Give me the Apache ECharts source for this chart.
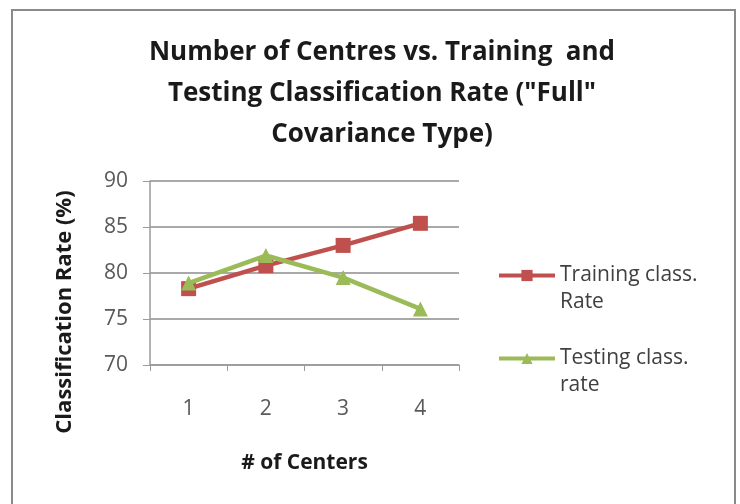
<!DOCTYPE html>
<html><head><meta charset="utf-8">
<script src="https://cdn.jsdelivr.net/npm/echarts@6/dist/echarts.min.js"></script>
<style>html,body{margin:0;padding:0;background:#fff}#c{width:740px;height:504px}</style>
</head><body><div id="c"></div>
<script>
const categories = ['1', '2', '3', '4'];
const trainingRate = [78.3, 80.8, 83.0, 85.4];
const testingRate = [78.9, 81.9, 79.5, 76.1];
const yTicks = [70, 75, 80, 85, 90];
const seriesNames = ['Training class.\nRate', 'Testing class.\nrate'];

const chart = echarts.init(document.getElementById('c'));
const fontFam = '"Open Sans", sans-serif';
chart.setOption({
  backgroundColor: '#ffffff',
  animation: false,
  title: {
    text: 'Number of Centres vs. Training  and\nTesting Classification Rate ("Full"\nCovariance Type)',
    left: 377, top: 27, textAlign: 'center',
    textStyle: { fontFamily: fontFam, fontSize: 26, fontWeight: 'bold', color: '#1a1a1a', lineHeight: 41 }
  },
  graphic: [{
    type: 'rect', shape: { x: 12, y: 10, width: 723, height: 510 },
    style: { fill: 'none', stroke: '#8a8a8a', lineWidth: 2 }, silent: true
  }],
  legend: {
    orient: 'vertical', left: 492, top: 230, itemWidth: 56, itemHeight: 14, itemGap: 2, itemGap: 2,
    data: seriesNames,
    formatter: n => '\n' + n,
    lineStyle: { width: 4 },
    textStyle: { fontFamily: fontFam, fontSize: 21, color: '#404040', lineHeight: 27 }
  },
  grid: { left: 150, right: 281, top: 181, bottom: 139 },
  xAxis: {
    type: 'category', data: categories, boundaryGap: true,
    name: '# of Centers', nameLocation: 'middle', nameGap: 88,
    nameTextStyle: { fontFamily: fontFam, fontSize: 21, fontWeight: 'bold', color: '#1a1a1a' },
    axisLine: { lineStyle: { color: '#9a9a9a', width: 1.5 } },
    axisTick: { show: true, length: 6, lineStyle: { color: '#9a9a9a' } },
    axisLabel: { fontFamily: fontFam, fontSize: 21, color: '#595959', margin: 34 }
  },
  yAxis: {
    type: 'value', min: 70, max: 90, interval: 5,
    name: 'Classification Rate (%)', nameLocation: 'middle', nameGap: 74,
    nameTextStyle: { fontFamily: fontFam, fontSize: 22, fontWeight: 'bold', color: '#1a1a1a', padding: [0, 78, 0, 0] },
    axisLine: { show: true, lineStyle: { color: '#9a9a9a', width: 1.5 } },
    axisTick: { show: true, length: 7, lineStyle: { color: '#9a9a9a' } },
    axisLabel: { fontFamily: fontFam, fontSize: 21, color: '#595959', margin: 22,
      formatter: v => yTicks.includes(v) ? String(v) : '' },
    splitLine: { lineStyle: { color: '#8c8c8c', width: 1.5 } }
  },
  series: [
    { name: seriesNames[0], type: 'line', data: trainingRate,
      symbol: 'rect', symbolSize: 15, lineStyle: { color: '#C0504D', width: 4.5 },
      itemStyle: { color: '#C0504D' }, z: 2 },
    { name: seriesNames[1], type: 'line', data: testingRate,
      symbol: 'triangle', symbolSize: 15, lineStyle: { color: '#9BBB59', width: 4.5 },
      itemStyle: { color: '#9BBB59' }, z: 3 }
  ]
});
</script></body></html>
